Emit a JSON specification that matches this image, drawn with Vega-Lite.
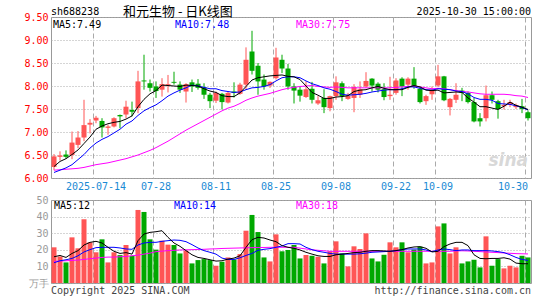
{
  "$schema": "https://vega.github.io/schema/vega-lite/v6.json",
  "background": "white",
  "padding": {"left": 23, "top": 5, "right": 0, "bottom": 0},
  "bounds": "flush",
  "spacing": 22,
  "config": {
    "view": {"stroke": "#999999", "strokeWidth": 1},
    "font": "DejaVu Sans Mono",
    "axis": {"labelFont": "DejaVu Sans Mono", "labelFontSize": 10, "ticks": false, "domain": false}
  },
  "datasets": {
    "k": [
      {"d":"2025-07-03","o":6.24,"h":6.52,"l":6.17,"c":6.47,"v":21.5,"m5":6.25,"m10":6.12,"m30":6.17,"vm5":15.8,"vm10":12.2,"vm30":13.0},
      {"d":"2025-07-04","o":6.46,"h":6.58,"l":6.38,"c":6.49,"v":16.0,"m5":6.36,"m10":6.17,"m30":6.18,"vm5":16.6,"vm10":13.4,"vm30":13.2},
      {"d":"2025-07-07","o":6.51,"h":6.60,"l":6.42,"c":6.46,"v":12.4,"m5":6.42,"m10":6.22,"m30":6.19,"vm5":15.4,"vm10":14.0,"vm30":13.4},
      {"d":"2025-07-08","o":6.50,"h":7.01,"l":6.41,"c":6.77,"v":27.5,"m5":6.51,"m10":6.29,"m30":6.20,"vm5":17.8,"vm10":14.8,"vm30":13.6},
      {"d":"2025-07-09","o":6.72,"h":7.02,"l":6.65,"c":6.88,"v":20.9,"m5":6.61,"m10":6.40,"m30":6.21,"vm5":19.5,"vm10":16.4,"vm30":13.8},
      {"d":"2025-07-10","o":6.88,"h":7.70,"l":6.80,"c":7.15,"v":38.4,"m5":6.75,"m10":6.51,"m30":6.23,"vm5":22.9,"vm10":18.7,"vm30":14.2},
      {"d":"2025-07-11","o":7.16,"h":7.28,"l":6.97,"c":7.20,"v":24.5,"m5":6.89,"m10":6.65,"m30":6.26,"vm5":24.5,"vm10":20.1,"vm30":14.6},
      {"d":"2025-07-14","o":7.25,"h":7.35,"l":7.19,"c":7.31,"v":18.5,"m5":7.06,"m10":6.76,"m30":6.29,"vm5":25.1,"vm10":21.3,"vm30":15.0},
      {"d":"2025-07-15","o":7.24,"h":7.30,"l":6.88,"c":7.10,"v":26.3,"m5":7.13,"m10":6.84,"m30":6.31,"vm5":24.1,"vm10":21.5,"vm30":15.4},
      {"d":"2025-07-16","o":7.09,"h":7.16,"l":6.94,"c":7.12,"v":12.4,"m5":7.18,"m10":6.90,"m30":6.33,"vm5":21.5,"vm10":21.5,"vm30":15.6},
      {"d":"2025-07-17","o":7.12,"h":7.32,"l":7.10,"c":7.30,"v":18.5,"m5":7.21,"m10":6.98,"m30":6.36,"vm5":19.1,"vm10":21.5,"vm30":15.6},
      {"d":"2025-07-18","o":7.37,"h":7.38,"l":7.08,"c":7.34,"v":16.8,"m5":7.23,"m10":7.06,"m30":6.39,"vm5":17.8,"vm10":21.1,"vm30":15.8},
      {"d":"2025-07-21","o":7.38,"h":7.68,"l":7.30,"c":7.55,"v":22.9,"m5":7.28,"m10":7.17,"m30":6.42,"vm5":18.3,"vm10":20.5,"vm30":16.0},
      {"d":"2025-07-22","o":7.48,"h":7.66,"l":7.34,"c":7.44,"v":16.4,"m5":7.35,"m10":7.24,"m30":6.46,"vm5":17.4,"vm10":20.3,"vm30":16.4},
      {"d":"2025-07-23","o":7.52,"h":8.33,"l":7.41,"c":8.10,"v":44.0,"m5":7.55,"m10":7.36,"m30":6.50,"vm5":25.5,"vm10":22.9,"vm30":16.8},
      {"d":"2025-07-24","o":8.12,"h":8.68,"l":7.92,"c":8.10,"v":42.8,"m5":7.71,"m10":7.46,"m30":6.55,"vm5":29.5,"vm10":24.1,"vm30":17.4},
      {"d":"2025-07-25","o":8.06,"h":8.14,"l":7.88,"c":7.96,"v":26.3,"m5":7.83,"m10":7.53,"m30":6.60,"vm5":30.5,"vm10":24.5,"vm30":18.0},
      {"d":"2025-07-28","o":7.99,"h":8.10,"l":7.74,"c":7.89,"v":20.1,"m5":7.90,"m10":7.59,"m30":6.66,"vm5":30.9,"vm10":24.5,"vm30":18.9},
      {"d":"2025-07-29","o":7.92,"h":8.17,"l":7.77,"c":8.04,"v":25.5,"m5":8.02,"m10":7.68,"m30":6.73,"vm5":31.5,"vm10":25.1,"vm30":19.2},
      {"d":"2025-07-30","o":8.02,"h":8.24,"l":7.86,"c":8.04,"v":23.1,"m5":8.01,"m10":7.78,"m30":6.80,"vm5":27.5,"vm10":25.5,"vm30":19.5},
      {"d":"2025-07-31","o":8.09,"h":8.31,"l":8.03,"c":8.07,"v":22.9,"m5":8.00,"m10":7.85,"m30":6.88,"vm5":24.1,"vm10":25.9,"vm30":19.7},
      {"d":"2025-08-01","o":8.03,"h":8.10,"l":7.85,"c":7.92,"v":17.8,"m5":7.99,"m10":7.91,"m30":6.96,"vm5":22.1,"vm10":25.7,"vm30":19.9},
      {"d":"2025-08-04","o":7.88,"h":8.06,"l":7.64,"c":8.04,"v":19.5,"m5":8.02,"m10":7.96,"m30":7.04,"vm5":19.5,"vm10":24.9,"vm30":20.0},
      {"d":"2025-08-05","o":8.08,"h":8.14,"l":7.87,"c":7.99,"v":11.8,"m5":8.01,"m10":8.02,"m30":7.11,"vm5":17.0,"vm10":23.1,"vm30":20.1},
      {"d":"2025-08-06","o":8.05,"h":8.15,"l":7.92,"c":7.96,"v":13.8,"m5":8.00,"m10":8.00,"m30":7.18,"vm5":15.4,"vm10":21.1,"vm30":20.2},
      {"d":"2025-08-07","o":7.97,"h":8.06,"l":7.72,"c":7.81,"v":14.4,"m5":7.94,"m10":7.97,"m30":7.25,"vm5":14.8,"vm10":19.5,"vm30":20.3},
      {"d":"2025-08-08","o":7.81,"h":7.85,"l":7.52,"c":7.67,"v":13.8,"m5":7.89,"m10":7.94,"m30":7.32,"vm5":14.0,"vm10":18.5,"vm30":20.5},
      {"d":"2025-08-11","o":7.68,"h":7.88,"l":7.63,"c":7.85,"v":10.4,"m5":7.86,"m10":7.94,"m30":7.39,"vm5":13.2,"vm10":17.4,"vm30":20.6},
      {"d":"2025-08-12","o":7.83,"h":7.85,"l":7.49,"c":7.65,"v":12.8,"m5":7.79,"m10":7.90,"m30":7.46,"vm5":13.4,"vm10":15.0,"vm30":20.8},
      {"d":"2025-08-13","o":7.64,"h":7.88,"l":7.62,"c":7.85,"v":15.4,"m5":7.77,"m10":7.88,"m30":7.52,"vm5":14.4,"vm10":14.2,"vm30":20.9},
      {"d":"2025-08-14","o":7.88,"h":8.08,"l":7.75,"c":7.85,"v":14.2,"m5":7.77,"m10":7.86,"m30":7.56,"vm5":15.0,"vm10":14.2,"vm30":21.0},
      {"d":"2025-08-15","o":7.83,"h":8.07,"l":7.81,"c":8.03,"v":17.4,"m5":7.85,"m10":7.87,"m30":7.62,"vm5":16.4,"vm10":15.2,"vm30":21.1},
      {"d":"2025-08-18","o":8.03,"h":8.84,"l":7.92,"c":8.57,"v":31.5,"m5":7.99,"m10":7.92,"m30":7.69,"vm5":21.5,"vm10":16.6,"vm30":21.2},
      {"d":"2025-08-19","o":8.75,"h":9.20,"l":8.25,"c":8.33,"v":41.0,"m5":8.13,"m10":7.96,"m30":7.74,"vm5":26.1,"vm10":17.8,"vm30":21.3},
      {"d":"2025-08-20","o":8.44,"h":8.50,"l":7.81,"c":8.10,"v":30.7,"m5":8.18,"m10":7.97,"m30":7.78,"vm5":27.5,"vm10":19.7,"vm30":21.4},
      {"d":"2025-08-21","o":8.14,"h":8.25,"l":7.92,"c":7.99,"v":15.4,"m5":8.20,"m10":7.99,"m30":7.81,"vm5":27.1,"vm10":20.3,"vm30":21.4},
      {"d":"2025-08-22","o":8.01,"h":8.10,"l":7.96,"c":8.09,"v":13.0,"m5":8.22,"m10":8.03,"m30":7.84,"vm5":25.9,"vm10":20.7,"vm30":21.5},
      {"d":"2025-08-25","o":8.17,"h":8.83,"l":8.14,"c":8.62,"v":29.3,"m5":8.23,"m10":8.11,"m30":7.88,"vm5":24.9,"vm10":21.5,"vm30":21.5},
      {"d":"2025-08-26","o":8.57,"h":8.68,"l":8.28,"c":8.38,"v":19.1,"m5":8.24,"m10":8.18,"m30":7.92,"vm5":22.5,"vm10":22.3,"vm30":21.5},
      {"d":"2025-08-27","o":8.38,"h":8.48,"l":7.92,"c":7.99,"v":19.9,"m5":8.21,"m10":8.20,"m30":7.95,"vm5":21.5,"vm10":23.7,"vm30":21.5},
      {"d":"2025-08-28","o":7.99,"h":8.06,"l":7.62,"c":7.90,"v":22.9,"m5":8.20,"m10":8.20,"m30":7.97,"vm5":20.9,"vm10":23.7,"vm30":21.5},
      {"d":"2025-08-29","o":7.92,"h":7.99,"l":7.66,"c":7.79,"v":14.8,"m5":8.14,"m10":8.18,"m30":7.99,"vm5":19.9,"vm10":23.5,"vm30":21.0},
      {"d":"2025-09-01","o":7.76,"h":8.10,"l":7.74,"c":7.93,"v":16.8,"m5":8.00,"m10":8.11,"m30":8.00,"vm5":18.5,"vm10":21.5,"vm30":20.5},
      {"d":"2025-09-02","o":7.94,"h":8.09,"l":7.62,"c":7.70,"v":16.4,"m5":7.86,"m10":8.05,"m30":8.01,"vm5":17.4,"vm10":20.1,"vm30":20.0},
      {"d":"2025-09-03","o":7.62,"h":7.78,"l":7.59,"c":7.69,"v":15.8,"m5":7.80,"m10":8.01,"m30":7.99,"vm5":16.4,"vm10":19.1,"vm30":19.7},
      {"d":"2025-09-04","o":7.74,"h":7.93,"l":7.41,"c":7.54,"v":11.8,"m5":7.73,"m10":7.96,"m30":7.98,"vm5":16.0,"vm10":18.5,"vm30":19.4},
      {"d":"2025-09-05","o":7.52,"h":7.79,"l":7.45,"c":7.78,"v":19.1,"m5":7.73,"m10":7.93,"m30":7.97,"vm5":16.0,"vm10":17.8,"vm30":19.1},
      {"d":"2025-09-08","o":7.78,"h":8.21,"l":7.70,"c":8.08,"v":25.1,"m5":7.76,"m10":7.88,"m30":7.98,"vm5":17.0,"vm10":17.4,"vm30":19.1},
      {"d":"2025-09-09","o":8.06,"h":8.10,"l":7.67,"c":7.78,"v":17.8,"m5":7.77,"m10":7.82,"m30":7.97,"vm5":17.4,"vm10":17.4,"vm30":19.1},
      {"d":"2025-09-10","o":7.72,"h":7.85,"l":7.70,"c":7.79,"v":10.0,"m5":7.79,"m10":7.80,"m30":7.96,"vm5":17.8,"vm10":17.4,"vm30":19.1},
      {"d":"2025-09-11","o":7.74,"h":8.04,"l":7.43,"c":7.98,"v":22.1,"m5":7.88,"m10":7.81,"m30":7.96,"vm5":18.3,"vm10":17.4,"vm30":19.1},
      {"d":"2025-09-12","o":7.81,"h":8.10,"l":7.74,"c":7.93,"v":20.5,"m5":7.91,"m10":7.82,"m30":7.96,"vm5":18.5,"vm10":17.6,"vm30":19.1},
      {"d":"2025-09-15","o":7.99,"h":8.30,"l":7.96,"c":8.11,"v":29.9,"m5":7.92,"m10":7.84,"m30":7.96,"vm5":19.1,"vm10":18.0,"vm30":19.1},
      {"d":"2025-09-16","o":8.16,"h":8.17,"l":7.88,"c":8.01,"v":14.8,"m5":7.96,"m10":7.87,"m30":7.96,"vm5":19.5,"vm10":18.5,"vm30":19.1},
      {"d":"2025-09-17","o":8.05,"h":8.08,"l":7.86,"c":7.92,"v":13.0,"m5":7.99,"m10":7.89,"m30":7.96,"vm5":19.5,"vm10":18.7,"vm30":19.1},
      {"d":"2025-09-18","o":7.93,"h":8.06,"l":7.69,"c":7.76,"v":17.0,"m5":7.95,"m10":7.91,"m30":7.96,"vm5":19.3,"vm10":18.9,"vm30":19.1},
      {"d":"2025-09-19","o":7.78,"h":8.20,"l":7.70,"c":7.81,"v":24.5,"m5":7.92,"m10":7.92,"m30":7.96,"vm5":19.1,"vm10":19.1,"vm30":19.1},
      {"d":"2025-09-22","o":7.85,"h":8.17,"l":7.81,"c":8.12,"v":21.5,"m5":7.92,"m10":7.92,"m30":7.97,"vm5":19.5,"vm10":19.5,"vm30":19.1},
      {"d":"2025-09-23","o":8.16,"h":8.19,"l":7.78,"c":7.99,"v":24.5,"m5":7.92,"m10":7.94,"m30":7.98,"vm5":20.1,"vm10":20.1,"vm30":19.1},
      {"d":"2025-09-24","o":8.03,"h":8.19,"l":7.92,"c":8.16,"v":18.5,"m5":7.97,"m10":7.98,"m30":7.99,"vm5":21.1,"vm10":20.5,"vm30":19.1},
      {"d":"2025-09-25","o":8.16,"h":8.41,"l":7.94,"c":7.99,"v":20.1,"m5":8.01,"m10":7.98,"m30":8.00,"vm5":21.7,"vm10":20.5,"vm30":19.1},
      {"d":"2025-09-26","o":7.94,"h":7.99,"l":7.62,"c":7.65,"v":21.9,"m5":7.98,"m10":7.95,"m30":7.98,"vm5":21.9,"vm10":20.5,"vm30":19.1},
      {"d":"2025-09-29","o":7.67,"h":7.81,"l":7.59,"c":7.78,"v":11.8,"m5":7.91,"m10":7.92,"m30":7.96,"vm5":20.9,"vm10":19.9,"vm30":19.1},
      {"d":"2025-09-30","o":7.82,"h":7.99,"l":7.70,"c":7.92,"v":12.4,"m5":7.90,"m10":7.91,"m30":7.94,"vm5":18.7,"vm10":18.9,"vm30":19.1},
      {"d":"2025-10-09","o":8.01,"h":8.46,"l":7.98,"c":8.21,"v":34.1,"m5":7.91,"m10":7.94,"m30":7.95,"vm5":19.1,"vm10":19.9,"vm30":19.1},
      {"d":"2025-10-10","o":8.21,"h":8.22,"l":7.67,"c":7.69,"v":35.9,"m5":7.85,"m10":7.93,"m30":7.94,"vm5":21.9,"vm10":20.5,"vm30":19.1},
      {"d":"2025-10-13","o":7.54,"h":7.74,"l":7.36,"c":7.72,"v":17.8,"m5":7.86,"m10":7.92,"m30":7.92,"vm5":23.5,"vm10":20.1,"vm30":19.1},
      {"d":"2025-10-14","o":7.70,"h":8.06,"l":7.63,"c":7.81,"v":21.5,"m5":7.87,"m10":7.89,"m30":7.90,"vm5":24.5,"vm10":19.5,"vm30":19.3},
      {"d":"2025-10-15","o":7.90,"h":7.96,"l":7.67,"c":7.85,"v":11.8,"m5":7.86,"m10":7.88,"m30":7.88,"vm5":24.5,"vm10":19.9,"vm30":19.4},
      {"d":"2025-10-16","o":7.85,"h":7.88,"l":7.62,"c":7.65,"v":13.0,"m5":7.74,"m10":7.83,"m30":7.87,"vm5":22.5,"vm10":19.9,"vm30":19.3},
      {"d":"2025-10-17","o":7.65,"h":7.74,"l":7.21,"c":7.23,"v":14.0,"m5":7.65,"m10":7.75,"m30":7.85,"vm5":17.0,"vm10":19.5,"vm30":19.1},
      {"d":"2025-10-20","o":7.30,"h":7.41,"l":7.12,"c":7.23,"v":9.4,"m5":7.55,"m10":7.71,"m30":7.83,"vm5":14.8,"vm10":19.5,"vm30":18.9},
      {"d":"2025-10-21","o":7.30,"h":8.01,"l":7.23,"c":7.80,"v":28.1,"m5":7.55,"m10":7.71,"m30":7.82,"vm5":14.6,"vm10":19.5,"vm30":18.7},
      {"d":"2025-10-22","o":7.80,"h":7.88,"l":7.62,"c":7.70,"v":10.4,"m5":7.52,"m10":7.69,"m30":7.82,"vm5":14.8,"vm10":19.3,"vm30":18.5},
      {"d":"2025-10-23","o":7.67,"h":7.70,"l":7.29,"c":7.50,"v":14.4,"m5":7.49,"m10":7.62,"m30":7.82,"vm5":14.8,"vm10":18.9,"vm30":18.3},
      {"d":"2025-10-24","o":7.56,"h":7.70,"l":7.49,"c":7.59,"v":8.8,"m5":7.56,"m10":7.61,"m30":7.82,"vm5":15.2,"vm10":18.3,"vm30":18.1},
      {"d":"2025-10-27","o":7.59,"h":7.70,"l":7.54,"c":7.65,"v":10.4,"m5":7.65,"m10":7.60,"m30":7.81,"vm5":14.4,"vm10":17.0,"vm30":17.9},
      {"d":"2025-10-28","o":7.54,"h":7.62,"l":7.50,"c":7.58,"v":9.4,"m5":7.58,"m10":7.57,"m30":7.79,"vm5":12.0,"vm10":15.4,"vm30":17.7},
      {"d":"2025-10-29","o":7.56,"h":7.72,"l":7.41,"c":7.50,"v":16.4,"m5":7.54,"m10":7.53,"m30":7.78,"vm5":11.6,"vm10":14.2,"vm30":17.6},
      {"d":"2025-10-30","o":7.43,"h":7.47,"l":7.25,"c":7.30,"v":15.4,"m5":7.49,"m10":7.48,"m30":7.75,"vm5":11.6,"vm10":13.6,"vm30":17.5}
    ]
  },
  "vconcat": [
    {
      "width": 480,
      "height": 161,
      "data": {"name": "k"},
      "encoding": {
        "x": {
          "field": "d", "type": "ordinal",
          "scale": {"type": "band", "paddingInner": 0, "paddingOuter": 0},
          "axis": {
            "title": null,
            "values": ["2025-07-14","2025-07-28","2025-08-11","2025-08-25","2025-09-08","2025-09-22","2025-10-09","2025-10-30"],
            "labelExpr": "datum.value == '2025-07-14' ? datum.value : slice(datum.value, 5)",
            "bandPosition": 0,
            "labelAngle": 0,
            "labelColor": "#1a8ad4",
            "labelPadding": 3,
            "labelFlush": 8,
            "labelOverlap": false,
            "grid": true,
            "gridColor": "#aaaaaa",
            "gridDash": [5, 3]
          }
        }
      },
      "layer": [
        {
          "mark": {"type": "rule", "strokeWidth": 1},
          "encoding": {
            "y": {
              "field": "l", "type": "quantitative", "title": null,
              "scale": {"domain": [6, 9.5], "nice": false, "zero": false},
              "axis": {"title": null, "values": [6, 6.5, 7, 7.5, 8, 8.5, 9, 9.5], "format": ".2f", "labelColor": "#ff0000", "labelPadding": 3, "labelOverlap": false, "labelFlush": false, "grid": true, "gridColor": "#aaaaaa", "gridDash": [1, 2]}
            },
            "y2": {"field": "h"},
            "color": {"condition": {"test": "datum.c >= datum.o", "value": "#ff5555"}, "value": "#00a800"}
          }
        },
        {
          "mark": {"type": "bar", "width": {"band": 0.834}},
          "encoding": {
            "y": {"field": "o", "type": "quantitative", "title": null,
              "axis": {"title": null, "values": [6, 6.5, 7, 7.5, 8, 8.5, 9, 9.5], "format": ".2f", "labelColor": "#ff0000", "labelPadding": 3, "labelOverlap": false, "labelFlush": false, "grid": true, "gridColor": "#aaaaaa", "gridDash": [1, 2]}},
            "y2": {"field": "c"},
            "color": {"condition": {"test": "datum.c >= datum.o", "value": "#ff5555"}, "value": "#00a800"}
          }
        },
        {
          "mark": {"type": "line", "color": "#ff00ff", "strokeWidth": 1},
          "encoding": {"y": {"field": "m30", "type": "quantitative", "title": null,
            "axis": {"title": null, "values": [6, 6.5, 7, 7.5, 8, 8.5, 9, 9.5], "format": ".2f", "labelColor": "#ff0000", "labelPadding": 3, "labelOverlap": false, "labelFlush": false, "grid": true, "gridColor": "#aaaaaa", "gridDash": [1, 2]}}}
        },
        {
          "mark": {"type": "line", "color": "#0000ff", "strokeWidth": 1},
          "encoding": {"y": {"field": "m10", "type": "quantitative", "title": null,
            "axis": {"title": null, "values": [6, 6.5, 7, 7.5, 8, 8.5, 9, 9.5], "format": ".2f", "labelColor": "#ff0000", "labelPadding": 3, "labelOverlap": false, "labelFlush": false, "grid": true, "gridColor": "#aaaaaa", "gridDash": [1, 2]}}}
        },
        {
          "mark": {"type": "line", "color": "#000000", "strokeWidth": 1},
          "encoding": {"y": {"field": "m5", "type": "quantitative", "title": null,
            "axis": {"title": null, "values": [6, 6.5, 7, 7.5, 8, 8.5, 9, 9.5], "format": ".2f", "labelColor": "#ff0000", "labelPadding": 3, "labelOverlap": false, "labelFlush": false, "grid": true, "gridColor": "#aaaaaa", "gridDash": [1, 2]}}}
        },
        {
          "data": {"values": [{"t": "sina"}]},
          "mark": {"type": "text", "font": "DejaVu Sans", "fontStyle": "italic", "fontWeight": "bold", "fontSize": 17, "color": "#d8d8d8", "align": "right", "baseline": "middle", "clip": false},
          "encoding": {"text": {"field": "t"}, "x": {"datum": "2025-10-30", "bandPosition": 0.5}, "y": {"datum": 6.37, "type": "quantitative",
            "axis": {"title": null, "values": [6, 6.5, 7, 7.5, 8, 8.5, 9, 9.5], "format": ".2f", "labelColor": "#ff0000", "labelPadding": 3, "labelOverlap": false, "labelFlush": false, "grid": true, "gridColor": "#aaaaaa", "gridDash": [1, 2]}}}
        },
        {
          "data": {"values": [{"t": "sh688238"}]},
          "mark": {"type": "text", "fontSize": 10, "color": "#000000", "align": "left", "baseline": "middle"},
          "encoding": {"text": {"field": "t"}, "x": {"datum": "2025-07-03", "bandPosition": 0}, "y": {"datum": 9.615, "type": "quantitative",
            "axis": {"title": null, "values": [6, 6.5, 7, 7.5, 8, 8.5, 9, 9.5], "format": ".2f", "labelColor": "#ff0000", "labelPadding": 3, "labelOverlap": false, "labelFlush": false, "grid": true, "gridColor": "#aaaaaa", "gridDash": [1, 2]}}}
        },
        {
          "data": {"values": [{"t": "和元生物 - 日K线图"}]},
          "mark": {"type": "text", "font": "Noto Sans CJK SC", "fontSize": 13, "color": "#000000", "align": "left", "baseline": "middle"},
          "encoding": {"text": {"field": "t"}, "x": {"datum": "2025-07-21", "bandPosition": 0}, "y": {"datum": 9.615, "type": "quantitative",
            "axis": {"title": null, "values": [6, 6.5, 7, 7.5, 8, 8.5, 9, 9.5], "format": ".2f", "labelColor": "#ff0000", "labelPadding": 3, "labelOverlap": false, "labelFlush": false, "grid": true, "gridColor": "#aaaaaa", "gridDash": [1, 2]}}}
        },
        {
          "data": {"values": [{"t": "2025-10-30 15:00:00"}]},
          "mark": {"type": "text", "fontSize": 10, "color": "#000000", "align": "right", "baseline": "middle"},
          "encoding": {"text": {"field": "t"}, "x": {"datum": "2025-10-30", "bandPosition": 1}, "y": {"datum": 9.615, "type": "quantitative",
            "axis": {"title": null, "values": [6, 6.5, 7, 7.5, 8, 8.5, 9, 9.5], "format": ".2f", "labelColor": "#ff0000", "labelPadding": 3, "labelOverlap": false, "labelFlush": false, "grid": true, "gridColor": "#aaaaaa", "gridDash": [1, 2]}}}
        },
        {
          "data": {"values": [{"t": "MA5:7.49"}]},
          "mark": {"type": "text", "fontSize": 10, "color": "#000000", "align": "left", "baseline": "middle", "dx": 2},
          "encoding": {"text": {"field": "t"}, "x": {"datum": "2025-07-03", "bandPosition": 0}, "y": {"datum": 9.33, "type": "quantitative",
            "axis": {"title": null, "values": [6, 6.5, 7, 7.5, 8, 8.5, 9, 9.5], "format": ".2f", "labelColor": "#ff0000", "labelPadding": 3, "labelOverlap": false, "labelFlush": false, "grid": true, "gridColor": "#aaaaaa", "gridDash": [1, 2]}}}
        },
        {
          "data": {"values": [{"t": "MA10:7.48"}]},
          "mark": {"type": "text", "fontSize": 10, "color": "#0000ff", "align": "left", "baseline": "middle", "dx": 4},
          "encoding": {"text": {"field": "t"}, "x": {"datum": "2025-07-31", "bandPosition": 0}, "y": {"datum": 9.33, "type": "quantitative",
            "axis": {"title": null, "values": [6, 6.5, 7, 7.5, 8, 8.5, 9, 9.5], "format": ".2f", "labelColor": "#ff0000", "labelPadding": 3, "labelOverlap": false, "labelFlush": false, "grid": true, "gridColor": "#aaaaaa", "gridDash": [1, 2]}}}
        },
        {
          "data": {"values": [{"t": "MA30:7.75"}]},
          "mark": {"type": "text", "fontSize": 10, "color": "#ff00ff", "align": "left", "baseline": "middle", "dx": 5},
          "encoding": {"text": {"field": "t"}, "x": {"datum": "2025-08-28", "bandPosition": 0}, "y": {"datum": 9.33, "type": "quantitative",
            "axis": {"title": null, "values": [6, 6.5, 7, 7.5, 8, 8.5, 9, 9.5], "format": ".2f", "labelColor": "#ff0000", "labelPadding": 3, "labelOverlap": false, "labelFlush": false, "grid": true, "gridColor": "#aaaaaa", "gridDash": [1, 2]}}}
        }
      ]
    },
    {
      "width": 480,
      "height": 83,
      "data": {"name": "k"},
      "encoding": {
        "x": {
          "field": "d", "type": "ordinal",
          "scale": {"type": "band", "paddingInner": 0, "paddingOuter": 0},
          "axis": {
            "title": null,
            "values": ["2025-07-14","2025-07-28","2025-08-11","2025-08-25","2025-09-08","2025-09-22","2025-10-09","2025-10-30"],
            "bandPosition": 0,
            "labels": false,
            "grid": true,
            "gridColor": "#aaaaaa",
            "gridDash": [5, 3]
          }
        }
      },
      "layer": [
        {
          "mark": {"type": "bar", "width": {"band": 0.834}},
          "encoding": {
            "y": {
              "field": "v", "type": "quantitative", "title": null,
              "scale": {"domain": [0, 50], "nice": false},
              "axis": {"title": null, "values": [0, 10, 20, 30, 40, 50], "labelExpr": "datum.value == 0 ? '万手' : datum.value", "labelColor": "#999999", "labelPadding": 3, "labelOverlap": false, "labelFlush": false, "grid": true, "gridColor": "#aaaaaa", "gridDash": [1, 2]}
            },
            "color": {"condition": {"test": "datum.c >= datum.o", "value": "#ff5555"}, "value": "#00a800"}
          }
        },
        {
          "mark": {"type": "line", "color": "#ff00ff", "strokeWidth": 1},
          "encoding": {"y": {"field": "vm30", "type": "quantitative", "title": null,
            "axis": {"title": null, "values": [0, 10, 20, 30, 40, 50], "labelExpr": "datum.value == 0 ? '万手' : datum.value", "labelColor": "#999999", "labelPadding": 3, "labelOverlap": false, "labelFlush": false, "grid": true, "gridColor": "#aaaaaa", "gridDash": [1, 2]}}}
        },
        {
          "mark": {"type": "line", "color": "#0000ff", "strokeWidth": 1},
          "encoding": {"y": {"field": "vm10", "type": "quantitative", "title": null,
            "axis": {"title": null, "values": [0, 10, 20, 30, 40, 50], "labelExpr": "datum.value == 0 ? '万手' : datum.value", "labelColor": "#999999", "labelPadding": 3, "labelOverlap": false, "labelFlush": false, "grid": true, "gridColor": "#aaaaaa", "gridDash": [1, 2]}}}
        },
        {
          "mark": {"type": "line", "color": "#000000", "strokeWidth": 1},
          "encoding": {"y": {"field": "vm5", "type": "quantitative", "title": null,
            "axis": {"title": null, "values": [0, 10, 20, 30, 40, 50], "labelExpr": "datum.value == 0 ? '万手' : datum.value", "labelColor": "#999999", "labelPadding": 3, "labelOverlap": false, "labelFlush": false, "grid": true, "gridColor": "#aaaaaa", "gridDash": [1, 2]}}}
        },
        {
          "data": {"values": [{"t": "MA5:12"}]},
          "mark": {"type": "text", "fontSize": 10, "color": "#000000", "align": "left", "baseline": "middle", "dx": 3},
          "encoding": {"text": {"field": "t"}, "x": {"datum": "2025-07-03", "bandPosition": 0}, "y": {"datum": 46.4, "type": "quantitative",
            "axis": {"title": null, "values": [0, 10, 20, 30, 40, 50], "labelExpr": "datum.value == 0 ? '万手' : datum.value", "labelColor": "#999999", "labelPadding": 3, "labelOverlap": false, "labelFlush": false, "grid": true, "gridColor": "#aaaaaa", "gridDash": [1, 2]}}}
        },
        {
          "data": {"values": [{"t": "MA10:14"}]},
          "mark": {"type": "text", "fontSize": 10, "color": "#0000ff", "align": "left", "baseline": "middle", "dx": 3},
          "encoding": {"text": {"field": "t"}, "x": {"datum": "2025-07-31", "bandPosition": 0}, "y": {"datum": 46.4, "type": "quantitative",
            "axis": {"title": null, "values": [0, 10, 20, 30, 40, 50], "labelExpr": "datum.value == 0 ? '万手' : datum.value", "labelColor": "#999999", "labelPadding": 3, "labelOverlap": false, "labelFlush": false, "grid": true, "gridColor": "#aaaaaa", "gridDash": [1, 2]}}}
        },
        {
          "data": {"values": [{"t": "MA30:18"}]},
          "mark": {"type": "text", "fontSize": 10, "color": "#ff00ff", "align": "left", "baseline": "middle", "dx": 5},
          "encoding": {"text": {"field": "t"}, "x": {"datum": "2025-08-28", "bandPosition": 0}, "y": {"datum": 46.4, "type": "quantitative",
            "axis": {"title": null, "values": [0, 10, 20, 30, 40, 50], "labelExpr": "datum.value == 0 ? '万手' : datum.value", "labelColor": "#999999", "labelPadding": 3, "labelOverlap": false, "labelFlush": false, "grid": true, "gridColor": "#aaaaaa", "gridDash": [1, 2]}}}
        },
        {
          "data": {"values": [{"t": "Copyright 2025 SINA.COM"}]},
          "mark": {"type": "text", "fontSize": 10, "color": "#444444", "align": "left", "baseline": "middle"},
          "encoding": {"text": {"field": "t"}, "x": {"datum": "2025-07-03", "bandPosition": 0}, "y": {"datum": -5, "type": "quantitative",
            "axis": {"title": null, "values": [0, 10, 20, 30, 40, 50], "labelExpr": "datum.value == 0 ? '万手' : datum.value", "labelColor": "#999999", "labelPadding": 3, "labelOverlap": false, "labelFlush": false, "grid": true, "gridColor": "#aaaaaa", "gridDash": [1, 2]}}}
        },
        {
          "data": {"values": [{"t": "http://finance.sina.com.cn"}]},
          "mark": {"type": "text", "fontSize": 10, "color": "#444444", "align": "right", "baseline": "middle"},
          "encoding": {"text": {"field": "t"}, "x": {"datum": "2025-10-30", "bandPosition": 1}, "y": {"datum": -5, "type": "quantitative",
            "axis": {"title": null, "values": [0, 10, 20, 30, 40, 50], "labelExpr": "datum.value == 0 ? '万手' : datum.value", "labelColor": "#999999", "labelPadding": 3, "labelOverlap": false, "labelFlush": false, "grid": true, "gridColor": "#aaaaaa", "gridDash": [1, 2]}}}
        }
      ]
    }
  ]
}
